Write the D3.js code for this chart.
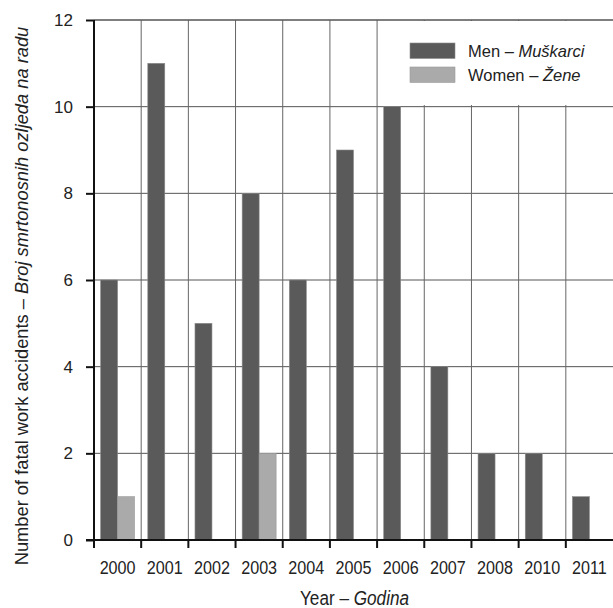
<!DOCTYPE html>
<html><head><meta charset="utf-8">
<script src="https://cdn.jsdelivr.net/npm/d3@7"></script>
<style>
body{margin:0;background:#fff;}
svg{display:block;}
text{font-family:"Liberation Sans",Arial,sans-serif;fill:#222;}
</style></head>
<body><svg id="c" width="613" height="608"></svg>
<script>
const years = ["2000","2001","2002","2003","2004","2005","2006","2007","2008","2010","2011"];
const men = [6, 11, 5, 8, 6, 9, 10, 4, 2, 2, 1];
const women = [1, 0, 0, 2, 0, 0, 0, 0, 0, 0, 0];
const seriesNames = ["Men – ", "Women – "];
const seriesItalic = ["Muškarci", "Žene"];
const yTicks = [0, 2, 4, 6, 8, 10, 12];

const svg = d3.select("#c");
const m = {l:94, r:0, t:20, b:68};
const W = 613, H = 608;
const x = d3.scaleBand().domain(years).range([m.l, W - m.r]).padding(0);
const xs = d3.scaleBand().domain([0,1]).range([0, x.bandwidth()]).paddingInner(0).paddingOuter(0.39);
const y = d3.scaleLinear().domain([0, 12]).range([H - m.b, m.t]);

// horizontal grid
svg.append("g").selectAll("line").data(yTicks.filter(d=>d>0)).join("line")
  .attr("x1", m.l).attr("x2", W).attr("y1", d=>y(d)).attr("y2", d=>y(d))
  .attr("stroke", "#555").attr("stroke-width", 1);
// vertical grid
svg.append("g").selectAll("line").data(years.slice(1)).join("line")
  .attr("x1", d=>x(d)).attr("x2", d=>x(d)).attr("y1", y(12)).attr("y2", y(0))
  .attr("stroke", "#666").attr("stroke-width", 1);

// bars
const colors = ["#5a5a5a", "#aaaaaa"];
const strokes = ["#8a8a8a", "#999999"];
[men, women].forEach((vals, si) => {
  svg.append("g").selectAll("rect").data(years.map((yr,i)=>({yr, v: vals[i]})).filter(d=>d.v>0)).join("rect")
    .attr("x", d => x(d.yr) + xs(si))
    .attr("width", xs.bandwidth())
    .attr("y", d => y(d.v))
    .attr("height", d => y(0) - y(d.v))
    .attr("fill", colors[si]).attr("stroke", strokes[si]).attr("stroke-width", 0.6);
});

// legend
const lg = svg.append("g");
lg.append("rect").attr("x", 390).attr("y", y(12)+1).attr("width", W-390).attr("height", 84).attr("fill", "#fff");
svg.append("line").attr("x1", m.l).attr("x2", W).attr("y1", y(12)).attr("y2", y(12)).attr("stroke", "#555");
seriesNames.forEach((nm, i) => {
  const yy = 43 + i*24;
  lg.append("rect").attr("x", 410).attr("y", yy).attr("width", 45).attr("height", 15.5)
    .attr("fill", colors[i]).attr("stroke", strokes[i]).attr("stroke-width", 0.6);
  const t = lg.append("text").attr("x", 468).attr("y", yy + 14).attr("font-size", 16.5);
  t.append("tspan").text(nm);
  t.append("tspan").attr("font-style", "italic").text(seriesItalic[i]);
});

// y axis
const yAxis = d3.axisLeft(y).tickValues(yTicks).tickSize(8).tickPadding(13).tickFormat(d3.format("d"));
const ga = svg.append("g").attr("transform", `translate(${m.l},0)`).call(yAxis);
ga.select(".domain").remove();
ga.selectAll(".tick line").attr("stroke", "#111").attr("stroke-width", 2);
ga.selectAll(".tick text").attr("font-size", 17).attr("fill", "#222").style("font-family", '"Liberation Sans",Arial,sans-serif');
svg.append("line").attr("x1", m.l).attr("x2", m.l).attr("y1", y(12)).attr("y2", y(0) + 8)
  .attr("stroke", "#111").attr("stroke-width", 2);

// x axis
const xb = d3.axisBottom(x).tickSize(0).tickPadding(34);
const gx = svg.append("g").attr("transform", `translate(0,${y(0)})`).call(xb);
gx.select(".domain").remove();
gx.selectAll(".tick text").attr("dy", 0).attr("font-size", 19).attr("fill", "#222")
  .attr("transform", "scale(0.85,1)")
  .style("font-family", '"Liberation Sans",Arial,sans-serif');
svg.append("line").attr("x1", m.l - 8).attr("x2", W).attr("y1", y(0)).attr("y2", y(0))
  .attr("stroke", "#111").attr("stroke-width", 2);
svg.append("g").selectAll("line").data(years).join("line")
  .attr("x1", d=>x(d)).attr("x2", d=>x(d)).attr("y1", y(0)).attr("y2", y(0)+8)
  .attr("stroke", "#111").attr("stroke-width", 2);

// titles
const xt = svg.append("text").attr("transform", `translate(${(m.l + W)/2 + 1},605) scale(0.88,1)`)
  .attr("text-anchor", "middle").attr("font-size", 19.5);
xt.append("tspan").text("Year – ");
xt.append("tspan").attr("font-style", "italic").text("Godina");

const yt = svg.append("text").attr("transform", "translate(28,296) rotate(-90)")
  .attr("text-anchor", "middle").attr("font-size", 18.3);
yt.append("tspan").text("Number of fatal work accidents – ");
yt.append("tspan").attr("font-style", "italic").text("Broj smrtonosnih ozljeda na radu");
</script></body></html>
